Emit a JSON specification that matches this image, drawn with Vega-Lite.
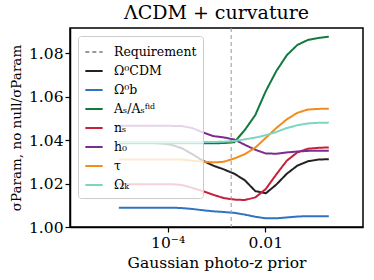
{
  "$schema": "https://vega.github.io/schema/vega-lite/v6.json",
  "width": 293,
  "height": 199,
  "autosize": {"type": "none"},
  "padding": {"left": 70, "top": 28, "right": 11, "bottom": 53},
  "background": "white",
  "title": {"text": "ΛCDM + curvature", "font": "DejaVu Serif", "fontSize": 19, "fontWeight": "normal", "color": "black", "offset": 5, "anchor": "middle"},
  "config": {
    "view": {"stroke": "black", "strokeWidth": 1.5},
    "axis": {"labelFont": "DejaVu Serif", "labelFontSize": 15.5, "titleFont": "DejaVu Serif", "titleFontSize": 15.5, "titleFontWeight": "normal", "labelColor": "black", "titleColor": "black", "tickColor": "black", "domainColor": "black", "grid": false, "tickSize": 5, "tickWidth": 1.2, "domainWidth": 1.5},
    "legend": {"orient": "top-left", "offset": 8, "fillColor": "rgba(255,255,255,0.8)", "strokeColor": "#cccccc", "cornerRadius": 3, "padding": 6, "symbolType": "stroke", "symbolSize": 300, "symbolStrokeWidth": 2, "labelFont": "DejaVu Serif", "labelFontSize": 12.5, "labelColor": "black", "labelOffset": 10, "rowPadding": 2}
  },
  "layer": [
    {
      "data": {"values": [
        {"series": "Ω⁰CDM", "x": 1.0e-5, "y": 1.0388}, {"series": "Ω⁰CDM", "x": 1.641e-5, "y": 1.0388}, {"series": "Ω⁰CDM", "x": 2.692e-5, "y": 1.0388}, {"series": "Ω⁰CDM", "x": 4.416e-5, "y": 1.0387}, {"series": "Ω⁰CDM", "x": 7.244e-5, "y": 1.0384}, {"series": "Ω⁰CDM", "x": 1.189e-4, "y": 1.0378}, {"series": "Ω⁰CDM", "x": 1.950e-4, "y": 1.0362}, {"series": "Ω⁰CDM", "x": 3.199e-4, "y": 1.0335}, {"series": "Ω⁰CDM", "x": 5.248e-4, "y": 1.0305}, {"series": "Ω⁰CDM", "x": 8.610e-4, "y": 1.0282}, {"series": "Ω⁰CDM", "x": 1.413e-3, "y": 1.0265}, {"series": "Ω⁰CDM", "x": 2.317e-3, "y": 1.0245}, {"series": "Ω⁰CDM", "x": 3.802e-3, "y": 1.0215}, {"series": "Ω⁰CDM", "x": 6.237e-3, "y": 1.0165}, {"series": "Ω⁰CDM", "x": 1.023e-2, "y": 1.0155}, {"series": "Ω⁰CDM", "x": 1.679e-2, "y": 1.0195}, {"series": "Ω⁰CDM", "x": 2.754e-2, "y": 1.0245}, {"series": "Ω⁰CDM", "x": 4.519e-2, "y": 1.0282}, {"series": "Ω⁰CDM", "x": 7.413e-2, "y": 1.0302}, {"series": "Ω⁰CDM", "x": 0.1216, "y": 1.031}, {"series": "Ω⁰CDM", "x": 0.1995, "y": 1.0312},
        {"series": "Ω⁰b", "x": 1.0e-5, "y": 1.0089}, {"series": "Ω⁰b", "x": 1.641e-5, "y": 1.0089}, {"series": "Ω⁰b", "x": 2.692e-5, "y": 1.0089}, {"series": "Ω⁰b", "x": 4.416e-5, "y": 1.0089}, {"series": "Ω⁰b", "x": 7.244e-5, "y": 1.0089}, {"series": "Ω⁰b", "x": 1.189e-4, "y": 1.0089}, {"series": "Ω⁰b", "x": 1.950e-4, "y": 1.0087}, {"series": "Ω⁰b", "x": 3.199e-4, "y": 1.0083}, {"series": "Ω⁰b", "x": 5.248e-4, "y": 1.0077}, {"series": "Ω⁰b", "x": 8.610e-4, "y": 1.0072}, {"series": "Ω⁰b", "x": 1.413e-3, "y": 1.0069}, {"series": "Ω⁰b", "x": 2.317e-3, "y": 1.0065}, {"series": "Ω⁰b", "x": 3.802e-3, "y": 1.0057}, {"series": "Ω⁰b", "x": 6.237e-3, "y": 1.0047}, {"series": "Ω⁰b", "x": 1.023e-2, "y": 1.004}, {"series": "Ω⁰b", "x": 1.679e-2, "y": 1.004}, {"series": "Ω⁰b", "x": 2.754e-2, "y": 1.0044}, {"series": "Ω⁰b", "x": 4.519e-2, "y": 1.0048}, {"series": "Ω⁰b", "x": 7.413e-2, "y": 1.005}, {"series": "Ω⁰b", "x": 0.1216, "y": 1.005}, {"series": "Ω⁰b", "x": 0.1995, "y": 1.005},
        {"series": "Aₛ/Aₛᶠⁱᵈ", "x": 1.0e-5, "y": 1.0385}, {"series": "Aₛ/Aₛᶠⁱᵈ", "x": 1.641e-5, "y": 1.0385}, {"series": "Aₛ/Aₛᶠⁱᵈ", "x": 2.692e-5, "y": 1.0385}, {"series": "Aₛ/Aₛᶠⁱᵈ", "x": 4.416e-5, "y": 1.0385}, {"series": "Aₛ/Aₛᶠⁱᵈ", "x": 7.244e-5, "y": 1.0385}, {"series": "Aₛ/Aₛᶠⁱᵈ", "x": 1.189e-4, "y": 1.0385}, {"series": "Aₛ/Aₛᶠⁱᵈ", "x": 1.950e-4, "y": 1.0385}, {"series": "Aₛ/Aₛᶠⁱᵈ", "x": 3.199e-4, "y": 1.0385}, {"series": "Aₛ/Aₛᶠⁱᵈ", "x": 5.248e-4, "y": 1.0385}, {"series": "Aₛ/Aₛᶠⁱᵈ", "x": 8.610e-4, "y": 1.0385}, {"series": "Aₛ/Aₛᶠⁱᵈ", "x": 1.413e-3, "y": 1.0386}, {"series": "Aₛ/Aₛᶠⁱᵈ", "x": 2.317e-3, "y": 1.039}, {"series": "Aₛ/Aₛᶠⁱᵈ", "x": 3.802e-3, "y": 1.0446}, {"series": "Aₛ/Aₛᶠⁱᵈ", "x": 6.237e-3, "y": 1.0515}, {"series": "Aₛ/Aₛᶠⁱᵈ", "x": 1.023e-2, "y": 1.0625}, {"series": "Aₛ/Aₛᶠⁱᵈ", "x": 1.679e-2, "y": 1.0717}, {"series": "Aₛ/Aₛᶠⁱᵈ", "x": 2.754e-2, "y": 1.079}, {"series": "Aₛ/Aₛᶠⁱᵈ", "x": 4.519e-2, "y": 1.0837}, {"series": "Aₛ/Aₛᶠⁱᵈ", "x": 7.413e-2, "y": 1.086}, {"series": "Aₛ/Aₛᶠⁱᵈ", "x": 0.1216, "y": 1.0869}, {"series": "Aₛ/Aₛᶠⁱᵈ", "x": 0.1995, "y": 1.0875},
        {"series": "nₛ", "x": 1.0e-5, "y": 1.0197}, {"series": "nₛ", "x": 1.641e-5, "y": 1.0197}, {"series": "nₛ", "x": 2.692e-5, "y": 1.0197}, {"series": "nₛ", "x": 4.416e-5, "y": 1.0197}, {"series": "nₛ", "x": 7.244e-5, "y": 1.0197}, {"series": "nₛ", "x": 1.189e-4, "y": 1.0197}, {"series": "nₛ", "x": 1.950e-4, "y": 1.0193}, {"series": "nₛ", "x": 3.199e-4, "y": 1.018}, {"series": "nₛ", "x": 5.248e-4, "y": 1.0165}, {"series": "nₛ", "x": 8.610e-4, "y": 1.0148}, {"series": "nₛ", "x": 1.413e-3, "y": 1.0133}, {"series": "nₛ", "x": 2.317e-3, "y": 1.0126}, {"series": "nₛ", "x": 3.802e-3, "y": 1.0124}, {"series": "nₛ", "x": 6.237e-3, "y": 1.0136}, {"series": "nₛ", "x": 1.023e-2, "y": 1.0175}, {"series": "nₛ", "x": 1.679e-2, "y": 1.0242}, {"series": "nₛ", "x": 2.754e-2, "y": 1.0305}, {"series": "nₛ", "x": 4.519e-2, "y": 1.0343}, {"series": "nₛ", "x": 7.413e-2, "y": 1.036}, {"series": "nₛ", "x": 0.1216, "y": 1.0364}, {"series": "nₛ", "x": 0.1995, "y": 1.0366},
        {"series": "h₀", "x": 1.0e-5, "y": 1.0465}, {"series": "h₀", "x": 1.641e-5, "y": 1.0465}, {"series": "h₀", "x": 2.692e-5, "y": 1.0465}, {"series": "h₀", "x": 4.416e-5, "y": 1.0465}, {"series": "h₀", "x": 7.244e-5, "y": 1.0465}, {"series": "h₀", "x": 1.189e-4, "y": 1.0465}, {"series": "h₀", "x": 1.950e-4, "y": 1.0464}, {"series": "h₀", "x": 3.199e-4, "y": 1.0455}, {"series": "h₀", "x": 5.248e-4, "y": 1.0435}, {"series": "h₀", "x": 8.610e-4, "y": 1.0418}, {"series": "h₀", "x": 1.413e-3, "y": 1.0412}, {"series": "h₀", "x": 2.317e-3, "y": 1.0402}, {"series": "h₀", "x": 3.802e-3, "y": 1.0378}, {"series": "h₀", "x": 6.237e-3, "y": 1.0355}, {"series": "h₀", "x": 1.023e-2, "y": 1.0338}, {"series": "h₀", "x": 1.679e-2, "y": 1.0337}, {"series": "h₀", "x": 2.754e-2, "y": 1.0343}, {"series": "h₀", "x": 4.519e-2, "y": 1.0347}, {"series": "h₀", "x": 7.413e-2, "y": 1.035}, {"series": "h₀", "x": 0.1216, "y": 1.0351}, {"series": "h₀", "x": 0.1995, "y": 1.0351},
        {"series": "τ", "x": 1.0e-5, "y": 1.031}, {"series": "τ", "x": 1.641e-5, "y": 1.031}, {"series": "τ", "x": 2.692e-5, "y": 1.031}, {"series": "τ", "x": 4.416e-5, "y": 1.031}, {"series": "τ", "x": 7.244e-5, "y": 1.031}, {"series": "τ", "x": 1.189e-4, "y": 1.031}, {"series": "τ", "x": 1.950e-4, "y": 1.031}, {"series": "τ", "x": 3.199e-4, "y": 1.0305}, {"series": "τ", "x": 5.248e-4, "y": 1.03}, {"series": "τ", "x": 8.610e-4, "y": 1.0297}, {"series": "τ", "x": 1.413e-3, "y": 1.03}, {"series": "τ", "x": 2.317e-3, "y": 1.0315}, {"series": "τ", "x": 3.802e-3, "y": 1.0335}, {"series": "τ", "x": 6.237e-3, "y": 1.0365}, {"series": "τ", "x": 1.023e-2, "y": 1.041}, {"series": "τ", "x": 1.679e-2, "y": 1.0455}, {"series": "τ", "x": 2.754e-2, "y": 1.0495}, {"series": "τ", "x": 4.519e-2, "y": 1.0525}, {"series": "τ", "x": 7.413e-2, "y": 1.054}, {"series": "τ", "x": 0.1216, "y": 1.0543}, {"series": "τ", "x": 0.1995, "y": 1.0544},
        {"series": "Ωₖ", "x": 1.0e-5, "y": 1.0391}, {"series": "Ωₖ", "x": 1.641e-5, "y": 1.0391}, {"series": "Ωₖ", "x": 2.692e-5, "y": 1.0391}, {"series": "Ωₖ", "x": 4.416e-5, "y": 1.0391}, {"series": "Ωₖ", "x": 7.244e-5, "y": 1.0391}, {"series": "Ωₖ", "x": 1.189e-4, "y": 1.0391}, {"series": "Ωₖ", "x": 1.950e-4, "y": 1.0391}, {"series": "Ωₖ", "x": 3.199e-4, "y": 1.0391}, {"series": "Ωₖ", "x": 5.248e-4, "y": 1.0391}, {"series": "Ωₖ", "x": 8.610e-4, "y": 1.0391}, {"series": "Ωₖ", "x": 1.413e-3, "y": 1.0392}, {"series": "Ωₖ", "x": 2.317e-3, "y": 1.0395}, {"series": "Ωₖ", "x": 3.802e-3, "y": 1.0403}, {"series": "Ωₖ", "x": 6.237e-3, "y": 1.0411}, {"series": "Ωₖ", "x": 1.023e-2, "y": 1.0422}, {"series": "Ωₖ", "x": 1.679e-2, "y": 1.0437}, {"series": "Ωₖ", "x": 2.754e-2, "y": 1.0455}, {"series": "Ωₖ", "x": 4.519e-2, "y": 1.0468}, {"series": "Ωₖ", "x": 7.413e-2, "y": 1.0476}, {"series": "Ωₖ", "x": 0.1216, "y": 1.0479}, {"series": "Ωₖ", "x": 0.1995, "y": 1.048}
      ]},
      "mark": {"type": "line", "strokeWidth": 2},
      "encoding": {
        "x": {"field": "x", "type": "quantitative", "scale": {"type": "log", "domain": [6.03e-6, 0.339]}, "axis": {"values": [0.0001, 0.01], "labelExpr": "datum.value < 0.001 ? '10⁻⁴' : '0.01'", "title": "Gaussian photo-z prior", "labelPadding": 3, "titlePadding": 5}},
        "y": {"field": "y", "type": "quantitative", "scale": {"domain": [1.0, 1.0915], "nice": false, "zero": false}, "axis": {"values": [1.0, 1.02, 1.04, 1.06, 1.08], "format": ".2f", "title": "σParam, no null/σParam", "titleFontSize": 13.5, "labelPadding": 2, "titlePadding": 5}},
        "color": {"field": "series", "type": "nominal", "scale": {"domain": ["Requirement", "Ω⁰CDM", "Ω⁰b", "Aₛ/Aₛᶠⁱᵈ", "nₛ", "h₀", "τ", "Ωₖ"], "range": ["#999999", "#222222", "#3173c2", "#127a3e", "#c62139", "#7c2c8f", "#f28c1c", "#7fd5c1"]}, "legend": {"title": null}},
        "strokeDash": {"field": "series", "type": "nominal", "scale": {"domain": ["Requirement", "Ω⁰CDM", "Ω⁰b", "Aₛ/Aₛᶠⁱᵈ", "nₛ", "h₀", "τ", "Ωₖ"], "range": [[4, 3], [1, 0], [1, 0], [1, 0], [1, 0], [1, 0], [1, 0], [1, 0]]}, "legend": {"title": null}}
      }
    },
    {
      "data": {"values": [{"series": "Requirement", "x": 0.002}]},
      "mark": {"type": "rule", "strokeWidth": 1},
      "encoding": {
        "x": {"field": "x", "type": "quantitative"},
        "color": {"field": "series", "type": "nominal"},
        "strokeDash": {"field": "series", "type": "nominal"}
      }
    }
  ]
}
